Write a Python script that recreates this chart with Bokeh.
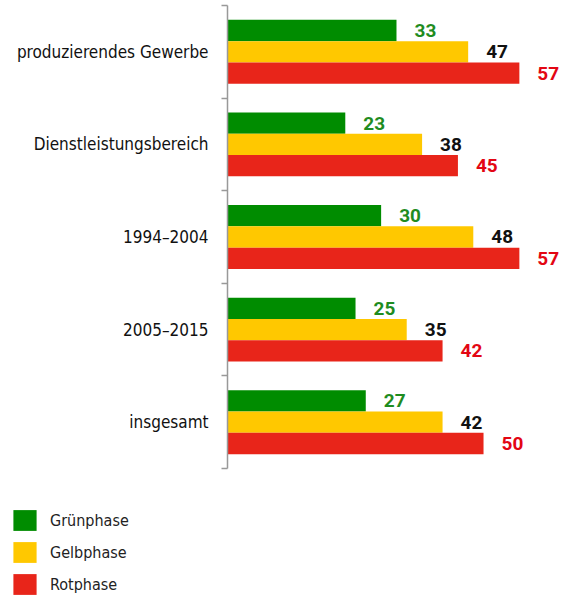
from bokeh.plotting import figure
from bokeh.models import Range1d, FixedTicker, Legend, LegendItem, LinearAxis, ColumnDataSource
from bokeh.embed import file_html
from bokeh.resources import INLINE
from bokeh.core.properties import value

categories = ["produzierendes Gewerbe", "Dienstleistungsbereich", "1994–2004", "2005–2015", "insgesamt"]
gruenphase = [33, 23, 30, 25, 27]
gelbphase = [47, 38, 48, 35, 42]
rotphase = [57, 45, 57, 42, 50]
series_names = ["Grünphase", "Gelbphase", "Rotphase"]

FONT = "DejaVu Sans Condensed"
NUMFONT = "Roboto"
bar_colors = ["#008c00", "#ffc800", "#e8251a"]
label_colors = ["#1f8c1f", "#111111", "#e30613"]

n = len(categories)
centers = [n - i - 0.5 for i in range(n)]
bar_h = 0.23
offsets = [bar_h, 0.0, -bar_h]

p = figure(width=567, height=598, x_range=Range1d(-44.34, 66.4), y_range=Range1d(-1.404, 5.054),
           output_backend="svg", toolbar_location=None, min_border=0,
           x_axis_location=None, y_axis_location=None)
p.outline_line_color = None
p.xgrid.visible = False
p.ygrid.visible = False

renderers = []
for vals, off, bc, lc in zip([gruenphase, gelbphase, rotphase], offsets, bar_colors, label_colors):
    ys = [c + off for c in centers]
    src = ColumnDataSource(dict(y=ys, v=vals, t=[str(v) for v in vals]))
    r = p.hbar(y="y", left=0, right="v", height=bar_h, source=src, fill_color=bc, line_color=None)
    renderers.append(r)
    p.text(x="v", y="y", text="t", source=src, x_offset=18, text_align="left", text_baseline="middle",
           text_font=value(NUMFONT), text_font_style="bold", text_font_size="19px", text_color=lc)

yaxis = LinearAxis(fixed_location=0, bounds=(0, n),
                   ticker=FixedTicker(ticks=centers, minor_ticks=[float(i) for i in range(n + 1)]),
                   major_label_overrides={c: name for c, name in zip(centers, categories)})
yaxis.major_tick_line_color = None
yaxis.major_tick_out = 5
yaxis.major_tick_in = 0
yaxis.minor_tick_line_color = "#999999"
yaxis.minor_tick_line_width = 1.5
yaxis.minor_tick_out = 6
yaxis.minor_tick_in = 0
yaxis.axis_line_color = "#999999"
yaxis.axis_line_width = 1.5
yaxis.major_label_standoff = 13
yaxis.major_label_text_font = FONT
yaxis.major_label_text_font_size = "17px"
yaxis.major_label_text_color = "#111111"
p.add_layout(yaxis, "left")

items = [LegendItem(label=name, renderers=[r], index=0) for name, r in zip(series_names, renderers)]
legend = Legend(items=items, location=(10, 1), orientation="vertical",
                glyph_width=29, glyph_height=26, spacing=6, label_standoff=11,
                padding=0, margin=0, border_line_color=None, background_fill_alpha=0,
                label_text_font=FONT, label_text_font_size="16px", label_text_color="#222222")
p.add_layout(legend)

open("out.html", "w").write(file_html(p, INLINE))
